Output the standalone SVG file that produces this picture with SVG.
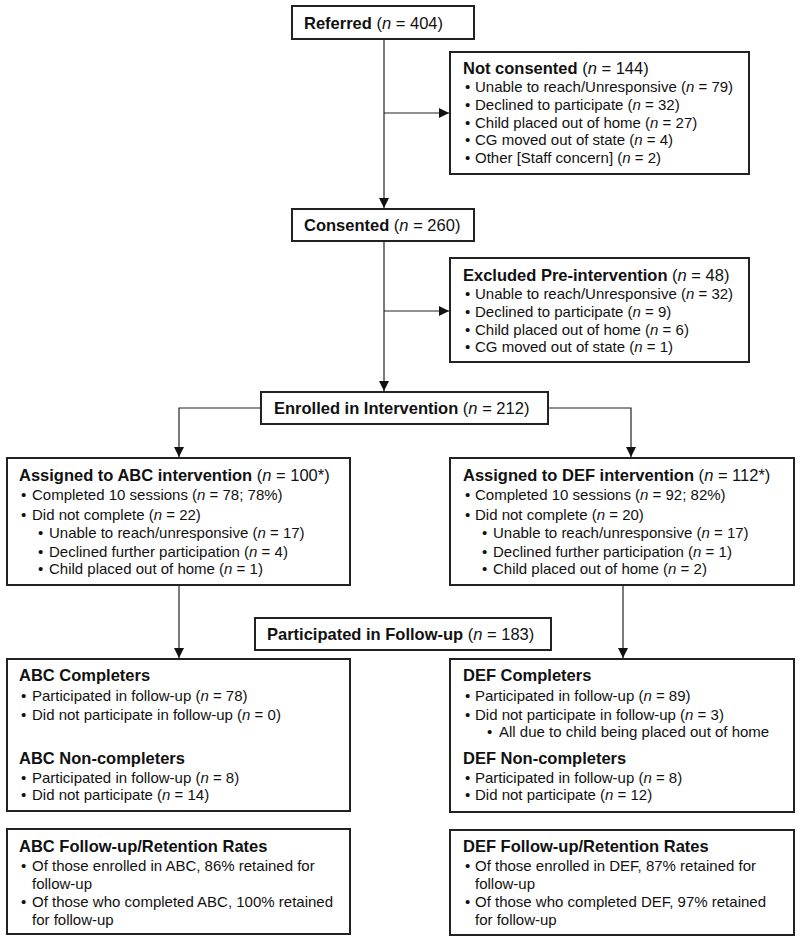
<svg xmlns="http://www.w3.org/2000/svg" width="800" height="941" viewBox="0 0 800 941">
<style>
.box{fill:#fff;stroke:#222;stroke-width:2}
.c{fill:none;stroke:#222;stroke-width:1.2}
text{font-family:"Liberation Sans",Arial,sans-serif;font-size:15px;fill:#111}
.h{font-size:16.5px}
.hb{font-weight:bold}
.i{font-style:italic}
</style>
<defs>
<marker id="ah" markerUnits="userSpaceOnUse" markerWidth="10" markerHeight="10" refX="10" refY="5" orient="auto">
<path d="M0,0 L10,5 L0,10 z" fill="#111"/>
</marker>
</defs>
<rect width="800" height="941" fill="#fff"/>
<g id="connectors">
<line class="c" x1="384" y1="40" x2="384" y2="208" marker-end="url(#ah)"/>
<line class="c" x1="384" y1="113" x2="449" y2="113" marker-end="url(#ah)"/>
<line class="c" x1="384" y1="242" x2="384" y2="391" marker-end="url(#ah)"/>
<line class="c" x1="384" y1="311" x2="449" y2="311" marker-end="url(#ah)"/>
<polyline class="c" points="261,408 179,408 179,457" marker-end="url(#ah)"/>
<polyline class="c" points="548,408 631,408 631,457" marker-end="url(#ah)"/>
<line class="c" x1="179" y1="586" x2="179" y2="658" marker-end="url(#ah)"/>
<line class="c" x1="623" y1="586" x2="623" y2="658" marker-end="url(#ah)"/>
</g>
<g id="referred">
<rect class="box" x="292" y="6" width="182" height="33"/>
<text class="h" x="304" y="29"><tspan class="hb">Referred</tspan> (<tspan class="i">n</tspan> = 404)</text>
</g>
<g id="not-consented">
<rect class="box" x="450" y="52" width="299" height="122"/>
<text class="h" x="463" y="74"><tspan class="hb">Not consented</tspan> (<tspan class="i">n</tspan> = 144)</text>
<text x="465" y="92">•</text><text x="475" y="92">Unable to reach/Unresponsive (<tspan class="i">n</tspan> = 79)</text>
<text x="465" y="110">•</text><text x="475" y="110">Declined to participate (<tspan class="i">n</tspan> = 32)</text>
<text x="465" y="127.5">•</text><text x="475" y="127.5">Child placed out of home (<tspan class="i">n</tspan> = 27)</text>
<text x="465" y="145">•</text><text x="475" y="145">CG moved out of state (<tspan class="i">n</tspan> = 4)</text>
<text x="465" y="163">•</text><text x="475" y="163">Other [Staff concern] (<tspan class="i">n</tspan> = 2)</text>
</g>
<g id="consented">
<rect class="box" x="292" y="209" width="182" height="32"/>
<text class="h" x="304" y="231"><tspan class="hb">Consented</tspan> (<tspan class="i">n</tspan> = 260)</text>
</g>
<g id="excluded">
<rect class="box" x="450" y="258" width="299" height="104"/>
<text class="h" x="463" y="281"><tspan class="hb">Excluded Pre-intervention</tspan> (<tspan class="i">n</tspan> = 48)</text>
<text x="465" y="299">•</text><text x="475" y="299">Unable to reach/Unresponsive (<tspan class="i">n</tspan> = 32)</text>
<text x="465" y="317">•</text><text x="475" y="317">Declined to participate (<tspan class="i">n</tspan> = 9)</text>
<text x="465" y="334.5">•</text><text x="475" y="334.5">Child placed out of home (<tspan class="i">n</tspan> = 6)</text>
<text x="465" y="352">•</text><text x="475" y="352">CG moved out of state (<tspan class="i">n</tspan> = 1)</text>
</g>
<g id="enrolled">
<rect class="box" x="261" y="392" width="287" height="32"/>
<text class="h" x="274" y="414"><tspan class="hb">Enrolled in Intervention</tspan> (<tspan class="i">n</tspan> = 212)</text>
</g>
<g id="abc-assigned">
<rect class="box" x="7" y="458" width="343" height="127"/>
<text class="h" x="19" y="481"><tspan class="hb">Assigned to ABC intervention</tspan> (<tspan class="i">n</tspan> = 100*)</text>
<text x="21" y="500">•</text><text x="32" y="500">Completed 10 sessions (<tspan class="i">n</tspan> = 78; 78%)</text>
<text x="21" y="520">•</text><text x="32" y="520">Did not complete (<tspan class="i">n</tspan> = 22)</text>
<text x="38" y="538">•</text><text x="49" y="538">Unable to reach/unresponsive (<tspan class="i">n</tspan> = 17)</text>
<text x="38" y="557">•</text><text x="49" y="557">Declined further participation (<tspan class="i">n</tspan> = 4)</text>
<text x="38" y="574">•</text><text x="49" y="574">Child placed out of home (<tspan class="i">n</tspan> = 1)</text>
</g>
<g id="def-assigned">
<rect class="box" x="450" y="458" width="344" height="127"/>
<text class="h" x="463" y="481"><tspan class="hb">Assigned to DEF intervention</tspan> (<tspan class="i">n</tspan> = 112*)</text>
<text x="465" y="500">•</text><text x="475" y="500">Completed 10 sessions (<tspan class="i">n</tspan> = 92; 82%)</text>
<text x="465" y="520">•</text><text x="475" y="520">Did not complete (<tspan class="i">n</tspan> = 20)</text>
<text x="482" y="538">•</text><text x="493" y="538">Unable to reach/unresponsive (<tspan class="i">n</tspan> = 17)</text>
<text x="482" y="557">•</text><text x="493" y="557">Declined further participation (<tspan class="i">n</tspan> = 1)</text>
<text x="482" y="574">•</text><text x="493" y="574">Child placed out of home (<tspan class="i">n</tspan> = 2)</text>
</g>
<g id="followup">
<rect class="box" x="255" y="618" width="296" height="32"/>
<text class="h" x="267" y="640"><tspan class="hb">Participated in Follow-up</tspan> (<tspan class="i">n</tspan> = 183)</text>
</g>
<g id="abc-completers">
<rect class="box" x="7" y="659" width="343" height="152"/>
<text class="h hb" x="19" y="681">ABC Completers</text>
<text x="21" y="701">•</text><text x="32" y="701">Participated in follow-up (<tspan class="i">n</tspan> = 78)</text>
<text x="21" y="720">•</text><text x="32" y="720">Did not participate in follow-up (<tspan class="i">n</tspan> = 0)</text>
<text class="h hb" x="19" y="764">ABC Non-completers</text>
<text x="21" y="783">•</text><text x="32" y="783">Participated in follow-up (<tspan class="i">n</tspan> = 8)</text>
<text x="21" y="800">•</text><text x="32" y="800">Did not participate (<tspan class="i">n</tspan> = 14)</text>
</g>
<g id="def-completers">
<rect class="box" x="450" y="659" width="344" height="153"/>
<text class="h hb" x="463" y="681">DEF Completers</text>
<text x="465" y="701">•</text><text x="475" y="701">Participated in follow-up (<tspan class="i">n</tspan> = 89)</text>
<text x="465" y="720">•</text><text x="475" y="720">Did not participate in follow-up (<tspan class="i">n</tspan> = 3)</text>
<text x="487" y="737">•</text><text x="499" y="737">All due to child being placed out of home</text>
<text class="h hb" x="463" y="764">DEF Non-completers</text>
<text x="465" y="783">•</text><text x="475" y="783">Participated in follow-up (<tspan class="i">n</tspan> = 8)</text>
<text x="465" y="800">•</text><text x="475" y="800">Did not participate (<tspan class="i">n</tspan> = 12)</text>
</g>
<g id="abc-retention">
<rect class="box" x="7" y="829" width="343" height="105"/>
<text class="h hb" x="19" y="852">ABC Follow-up/Retention Rates</text>
<text x="21" y="871">•</text><text x="32" y="871">Of those enrolled in ABC, 86% retained for</text>
<text x="32" y="889">follow-up</text>
<text x="21" y="907">•</text><text x="32" y="907">Of those who completed ABC, 100% retained</text>
<text x="32" y="925">for follow-up</text>
</g>
<g id="def-retention">
<rect class="box" x="450" y="830" width="344" height="105"/>
<text class="h hb" x="463" y="852">DEF Follow-up/Retention Rates</text>
<text x="465" y="871">•</text><text x="475" y="871">Of those enrolled in DEF, 87% retained for</text>
<text x="475" y="889">follow-up</text>
<text x="465" y="907">•</text><text x="475" y="907">Of those who completed DEF, 97% retained</text>
<text x="475" y="925">for follow-up</text>
</g>
</svg>
